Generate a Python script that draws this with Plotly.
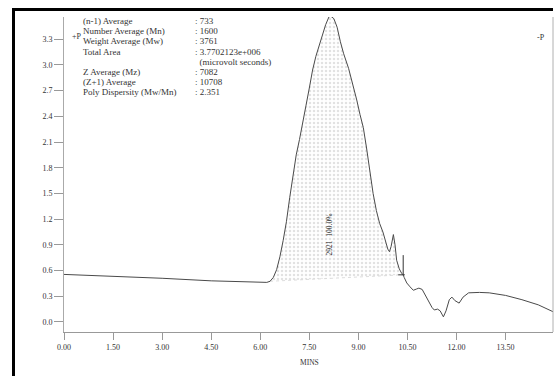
import plotly.graph_objects as go

# ---- data ----
time_min = [0.0, 1.5, 3.0, 4.5, 5.5, 6.0, 6.2, 6.3, 6.4, 6.5, 6.6, 6.7, 6.8, 6.9, 7.0,
            7.1, 7.2, 7.3, 7.4, 7.5, 7.6, 7.7, 7.8, 7.9, 8.0, 8.1, 8.15, 8.25, 8.35,
            8.45, 8.55, 8.7, 8.85, 8.95, 9.05, 9.15, 9.25, 9.35, 9.45, 9.55, 9.65,
            9.75, 9.82, 9.9, 9.95, 10.0, 10.07, 10.12, 10.17, 10.25, 10.32, 10.37,
            10.4, 10.48, 10.58, 10.68, 10.78, 10.85, 10.95, 11.05, 11.15, 11.25,
            11.32, 11.42, 11.5, 11.6, 11.68, 11.78, 11.86, 11.95, 12.08, 12.2,
            12.37, 12.7, 13.0, 13.5, 14.0, 14.5, 14.95]
signal = [0.555, 0.535, 0.51, 0.48, 0.465, 0.46, 0.462, 0.475, 0.52, 0.61, 0.76, 0.95,
          1.17, 1.45, 1.72, 1.95, 2.13, 2.31, 2.53, 2.73, 2.94, 3.1, 3.22, 3.35, 3.47,
          3.56, 3.57, 3.54, 3.44, 3.27, 3.13, 2.96, 2.75, 2.59, 2.42, 2.27, 2.03, 1.75,
          1.5, 1.3, 1.15, 1.05, 0.96, 0.85, 0.82, 0.88, 1.02, 0.9, 0.72, 0.62, 0.57,
          0.55, 0.52, 0.455, 0.41, 0.37, 0.385, 0.395, 0.38, 0.31, 0.25, 0.17, 0.14,
          0.15, 0.13, 0.06, 0.13, 0.26, 0.29, 0.25, 0.22, 0.29, 0.34, 0.345, 0.34,
          0.31, 0.26, 0.2, 0.12]

peak_start, peak_end = 6.3, 10.37
base_start_y, base_end_y = 0.475, 0.55

x_ticks = [0.0, 1.5, 3.0, 4.5, 6.0, 7.5, 9.0, 10.5, 12.0, 13.5]
y_ticks = [0.0, 0.3, 0.6, 0.9, 1.2, 1.5, 1.8, 2.1, 2.4, 2.7, 3.0, 3.3]

info_labels = ["(n-1) Average", "Number Average (Mn)", "Weight Average (Mw)",
               "Total Area", "", "Z Average (Mz)", "(Z+1) Average",
               "Poly Dispersity (Mw/Mn)"]
info_values = [": 733", ": 1600", ": 3761", ": 3.7702123e+006",
               "  (microvolt seconds)", ": 7082", ": 10708", ": 2.351"]
peak_label = "2921  100.0%"

# ---- figure ----
W, H = 555, 376
ML, MR, MT, MB = 64, 2, 17, 44
PW, PH = W - ML - MR, H - MT - MB


def px(p):
    return (p - ML) / PW


def py(q):
    return (H - MB - q) / PH


SERIF = "Liberation Serif"
fig = go.Figure()

# shaded integrated peak
fx = [t for t in time_min if peak_start <= t <= peak_end]
fy = [s for t, s in zip(time_min, signal) if peak_start <= t <= peak_end]
fig.add_trace(go.Scatter(
    x=fx + [peak_end, peak_start], y=fy + [base_end_y, base_start_y],
    mode="lines", fill="toself", line=dict(width=0),
    fillcolor="rgba(255,255,255,0)",
    fillpattern=dict(shape=".", fgcolor="#c4c4c4", bgcolor="white", size=4, solidity=0.3),
    hoverinfo="skip", showlegend=False))

# baseline of integration
fig.add_trace(go.Scatter(x=[peak_start, peak_end], y=[base_start_y, base_end_y],
                         mode="lines", line=dict(color="#d4d4d4", width=0.8, dash="dot"),
                         hoverinfo="skip", showlegend=False))

# main trace
fig.add_trace(go.Scatter(x=time_min, y=signal, mode="lines",
                         line=dict(color="#4a4a4a", width=1), showlegend=False))

# drop line at peak end
fig.add_shape(type="line", x0=peak_end, x1=peak_end, y0=base_end_y, y1=0.78,
              line=dict(color="#333", width=1))
fig.add_shape(type="line", x0=peak_end - 0.15, x1=peak_end + 0.05, y0=base_end_y, y1=base_end_y,
              line=dict(color="#333", width=1))

# right-hand axis line (thin, plot-height only)
fig.add_shape(type="line", xref="paper", yref="paper", x0=1, x1=1, y0=0, y1=1,
              line=dict(color="#b0b0b0", width=1))

annotations = []
for i, (lab, val) in enumerate(zip(info_labels, info_values)):
    q = 21.5 + i * 10.0
    if lab:
        annotations.append(dict(x=px(81), y=py(q), xref="paper", yref="paper", text=lab,
                                showarrow=False, xanchor="left", yanchor="middle",
                                font=dict(family=SERIF, size=9, color="#333")))
    annotations.append(dict(x=px(193), y=py(q), xref="paper", yref="paper", text=val,
                            showarrow=False, xanchor="left", yanchor="middle",
                            font=dict(family=SERIF, size=9, color="#333")))

annotations.append(dict(x=px(70), y=py(30), xref="paper", yref="paper", text="+P",
                        showarrow=False, font=dict(family=SERIF, size=8, color="#333")))
annotations.append(dict(x=px(547), y=py(31), xref="paper", yref="paper", text="-P",
                        showarrow=False, font=dict(family=SERIF, size=8, color="#333")))
annotations.append(dict(x=8.13, y=1.02, xref="x", yref="y", text=peak_label, textangle=-90,
                        showarrow=False, font=dict(family=SERIF, size=7.5, color="#222")))
annotations.append(dict(x=px(309), y=py(369), xref="paper", yref="paper", text="MINS",
                        showarrow=False, font=dict(family=SERIF, size=7.5, color="#333")))

# thick outer frame (only top and left edges fall inside the picture)
fig.add_shape(type="line", xref="paper", yref="paper",
              x0=px(12), x1=px(553), y0=py(9.5), y1=py(9.5),
              line=dict(color="black", width=3))
fig.add_shape(type="line", xref="paper", yref="paper",
              x0=px(13.5), x1=px(13.5), y0=py(8), y1=py(380),
              line=dict(color="black", width=3))

fig.update_layout(
    width=W, height=H, margin=dict(l=ML, r=MR, t=MT, b=MB),
    paper_bgcolor="white", plot_bgcolor="white",
    annotations=annotations,
    xaxis=dict(range=[0, 14.95], tickvals=x_ticks, tickformat=".2f",
               showgrid=False, zeroline=False, showline=True, linecolor="#999", linewidth=1,
               ticks="outside", ticklen=7, tickcolor="#999",
               tickfont=dict(family=SERIF, size=8, color="#333")),
    yaxis=dict(range=[-0.117, 3.559], tickvals=y_ticks, tickformat=".1f",
               showgrid=False, zeroline=False, showline=True, linecolor="#aaa", linewidth=1,
               mirror=False, ticks="outside", ticklen=9, tickcolor="#999",
               tickfont=dict(family=SERIF, size=8, color="#333")),
)

fig.write_html("out.html")
